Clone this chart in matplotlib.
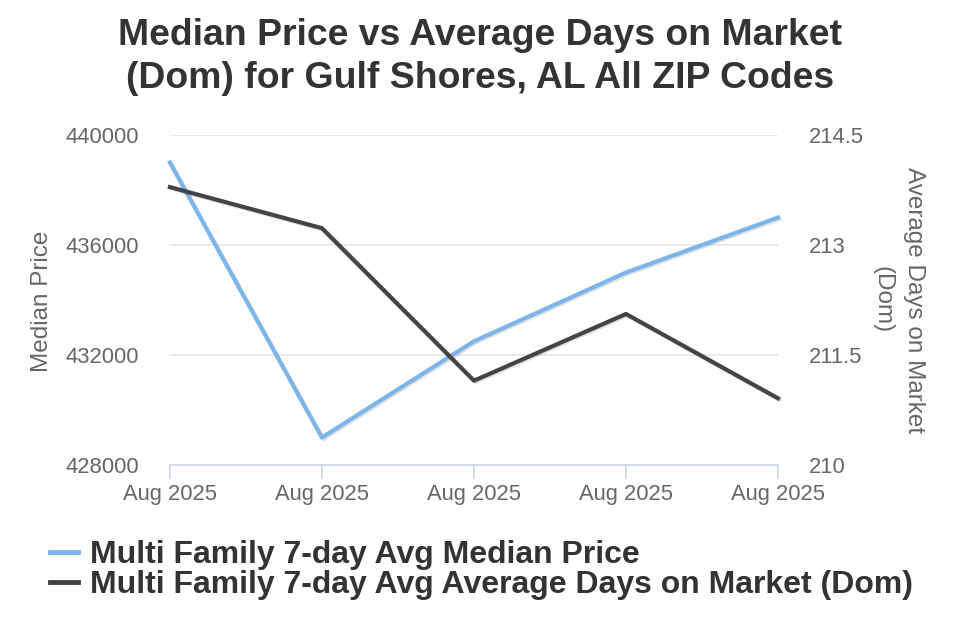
import matplotlib
matplotlib.use("Agg")

from matplotlib import pyplot as plt
from matplotlib import patheffects as pe
from matplotlib.lines import Line2D


TITLE = "Median Price vs Average Days on Market\n(Dom) for Gulf Shores, AL All ZIP Codes"

dates = ["Aug 2025", "Aug 2025", "Aug 2025", "Aug 2025", "Aug 2025"]
median_price = [439000, 429000, 432500, 435000, 437000]
days_on_market = [213.79, 213.23, 211.15, 212.06, 210.91]

price_ticks = [428000, 432000, 436000, 440000]
dom_ticks = [210, 211.5, 213, 214.5]

PRICE_NAME = "Multi Family 7-day Avg Median Price"
DOM_NAME = "Multi Family 7-day Avg Average Days on Market (Dom)"

BLUE = "#7cb5ec"
DARK = "#434348"
GRID = "#e6e6e6"
AXIS = "#ccd6eb"
LABEL = "#666666"

plt.rcParams["font.family"] = ["Liberation Sans", "DejaVu Sans"]

fig = plt.figure(figsize=(9.6, 6.4), dpi=100)
ax1 = fig.add_axes([0.177, 0.2734, 0.6334, 0.5156])
ax2 = ax1.twinx()

x = list(range(len(dates)))

shadow = [pe.SimpleLineShadow(offset=(1, -1), shadow_color="#000000", alpha=0.12), pe.Normal()]

ax1.plot(x, median_price, color=BLUE, lw=3, solid_joinstyle="round",
         path_effects=shadow, zorder=3, clip_on=False)
ax2.plot(x, days_on_market, color=DARK, lw=3, solid_joinstyle="round",
         path_effects=shadow, zorder=3, clip_on=False)

ax1.set_xlim(0, len(dates) - 1)
ax1.set_ylim(428000, 440000)
ax2.set_ylim(210, 214.5)

ax1.set_yticks(price_ticks)
ax1.set_yticklabels([str(v) for v in price_ticks])
ax2.set_yticks(dom_ticks)
ax2.set_yticklabels([f"{v:g}" for v in dom_ticks])

ax1.set_xticks(x)
ax1.set_xticklabels(dates)

ax1.grid(axis="y", color=GRID, lw=1.2)
ax1.set_axisbelow(True)

for ax in (ax1, ax2):
    for side in ("top", "left", "right", "bottom"):
        ax.spines[side].set_visible(False)

ax1.spines["bottom"].set_visible(True)
ax1.spines["bottom"].set_color(AXIS)
ax1.spines["bottom"].set_linewidth(1.2)

ax1.tick_params(axis="x", colors=AXIS, length=10, width=1.2, pad=4, labelcolor=LABEL, labelsize=15.8)
ax1.tick_params(axis="y", length=0, pad=22, labelcolor=LABEL, labelsize=15.8)
ax2.tick_params(axis="y", length=0, pad=22, labelcolor=LABEL, labelsize=15.8)

ax1.set_ylabel("Median Price", color=LABEL, fontsize=17.5)
ax1.yaxis.set_label_coords(-0.192, 0.497)
ax2.set_ylabel("Average Days on Market\n(Dom)", color=LABEL, fontsize=17.5,
               rotation=-90, linespacing=1.55)
ax2.yaxis.set_label_coords(1.242, 0.5)

fig.suptitle(TITLE, x=0.5, y=0.972, fontsize=26.9, fontweight="bold",
             color="#333333", linespacing=1.3)

handles = [Line2D([], [], color=BLUE, lw=3.5), Line2D([], [], color=DARK, lw=3.5)]
fig.legend(handles, [PRICE_NAME, DOM_NAME], loc="upper left",
           bbox_to_anchor=(0.052, 0.156), frameon=False, handlelength=0.88,
           handletextpad=0.38, labelspacing=0.0, borderpad=0, borderaxespad=0,
           prop={"size": 23, "weight": "bold"}, labelcolor="#333333")

fig.savefig("out.png", dpi=100, facecolor="white")
